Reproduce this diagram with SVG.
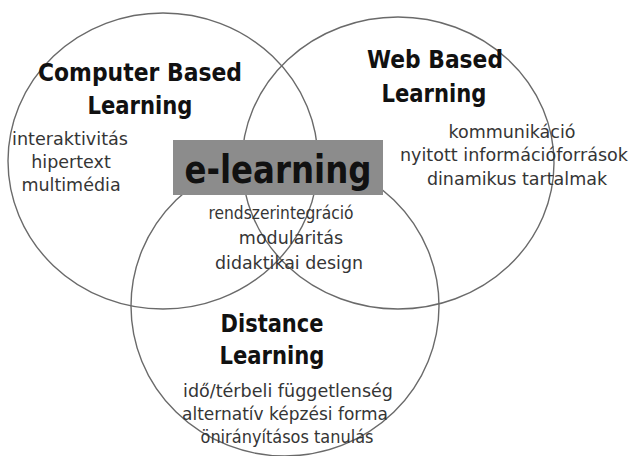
<svg xmlns="http://www.w3.org/2000/svg" width="632" height="456" viewBox="0 0 632 456">
  <style>
    .ring { fill: none; stroke: #6a6a6a; stroke-width: 1.4; }
    .title { font-family: "DejaVu Sans", "Liberation Sans", sans-serif; font-weight: bold; font-size: 24px; fill: #111; text-anchor: middle; }
    .body { font-family: "DejaVu Sans", "Liberation Sans", sans-serif; font-size: 17.5px; fill: #353535; text-anchor: middle; }
    .core { font-family: "Comic Sans MS", "DejaVu Sans", sans-serif; font-weight: bold; font-size: 39px; fill: #111; text-anchor: middle; }
  </style>
  <rect width="632" height="456" fill="#ffffff"/>

  <!-- three overlapping learning domains -->
  <g id="connectors">
    <ellipse class="ring" cx="163" cy="161" rx="155" ry="148"/>
    <ellipse class="ring" cx="398" cy="163" rx="156" ry="146"/>
    <ellipse class="ring" cx="285" cy="306" rx="154" ry="150"/>
  </g>

  <g id="computer-based">
    <text class="title" x="140" y="81" textLength="204" lengthAdjust="spacingAndGlyphs">Computer Based</text>
    <text class="title" x="140" y="114" textLength="105" lengthAdjust="spacingAndGlyphs">Learning</text>
    <text class="body" x="70" y="145" textLength="116" lengthAdjust="spacingAndGlyphs">interaktivitás</text>
    <text class="body" x="71" y="168">hipertext</text>
    <text class="body" x="71" y="191">multimédia</text>
  </g>

  <g id="web-based">
    <text class="title" x="435" y="68" textLength="136" lengthAdjust="spacingAndGlyphs">Web Based</text>
    <text class="title" x="434" y="102" textLength="105" lengthAdjust="spacingAndGlyphs">Learning</text>
    <text class="body" x="512" y="138">kommunikáció</text>
    <text class="body" x="514" y="161" textLength="228" lengthAdjust="spacingAndGlyphs">nyitott információforrások</text>
    <text class="body" x="517" y="185">dinamikus tartalmak</text>
  </g>

  <g id="distance">
    <text class="title" x="272" y="332" textLength="103" lengthAdjust="spacingAndGlyphs">Distance</text>
    <text class="title" x="272" y="364" textLength="105" lengthAdjust="spacingAndGlyphs">Learning</text>
    <text class="body" x="288" y="397" textLength="210" lengthAdjust="spacingAndGlyphs">idő/térbeli függetlenség</text>
    <text class="body" x="285" y="420" textLength="206" lengthAdjust="spacingAndGlyphs">alternatív képzési forma</text>
    <text class="body" x="287" y="443" textLength="173" lengthAdjust="spacingAndGlyphs">önirányításos tanulás</text>
  </g>

  <g id="e-learning">
    <rect x="173" y="140" width="210" height="55" fill="#8c8c8c"/>
    <text class="core" x="278" y="183" textLength="187" lengthAdjust="spacingAndGlyphs">e-learning</text>
    <text class="body" x="281" y="219" textLength="145" lengthAdjust="spacingAndGlyphs">rendszerintegráció</text>
    <text class="body" x="291" y="244">modularitás</text>
    <text class="body" x="289" y="269" textLength="148" lengthAdjust="spacingAndGlyphs">didaktikai design</text>
  </g>
</svg>
